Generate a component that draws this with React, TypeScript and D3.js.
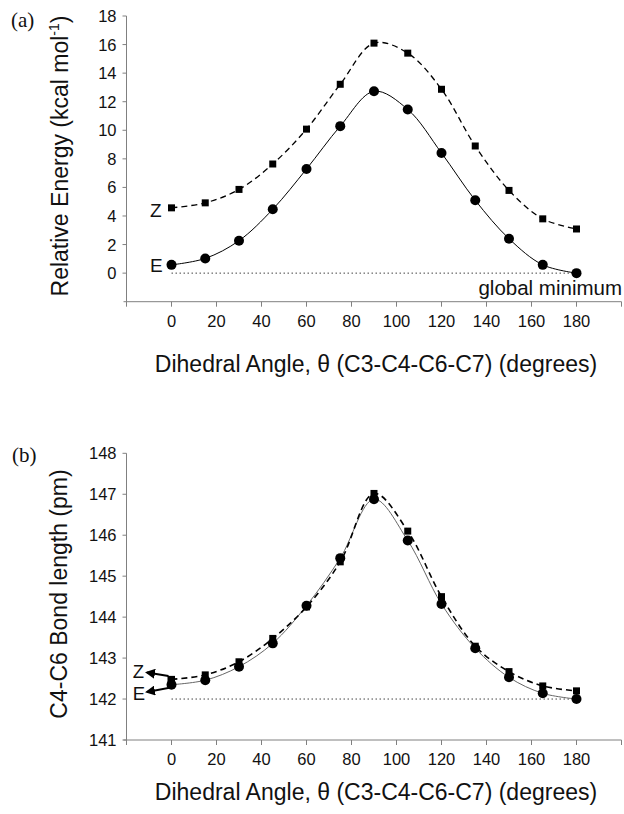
import React from "react";
import * as d3 from "d3";

const angles = [0, 15, 30, 45, 60, 75, 90, 105, 120, 135, 150, 165, 180];
const energyZ = [4.57, 4.92, 5.86, 7.64, 10.08, 13.22, 16.1, 15.4, 12.87, 8.9, 5.79, 3.8, 3.09];
const energyE = [0.58, 1.03, 2.27, 4.47, 7.29, 10.29, 12.73, 11.46, 8.41, 5.1, 2.41, 0.58, 0.0];
const bondZ = [142.48, 142.59, 142.91, 143.48, 144.25, 145.35, 147.02, 146.1, 144.5, 143.29, 142.67, 142.32, 142.2];
const bondE = [142.35, 142.46, 142.79, 143.36, 144.28, 145.44, 146.88, 145.87, 144.32, 143.24, 142.53, 142.14, 142.0];
const xTickValues = [0, 20, 40, 60, 80, 100, 120, 140, 160, 180];
const xTickMarks = [-20, 0, 20, 40, 60, 80, 100, 120, 140, 160, 180, 200];
const energyTicks = [0, 2, 4, 6, 8, 10, 12, 14, 16, 18];
const bondTicks = [141, 142, 143, 144, 145, 146, 147, 148];

const SANS = "'Liberation Sans', Arial, sans-serif";
const SERIF = "'Liberation Serif', 'Times New Roman', serif";
const AXIS = "#808080";

type PanelProps = {
  yDomain: [number, number];
  yRange: [number, number];
  yTicks: number[];
  zVals: number[];
  eVals: number[];
  refValue: number;
  eColor: string;
  zWidth: number;
};

function Panel({ yDomain, yRange, yTicks, zVals, eVals, refValue, eColor, zWidth }: PanelProps) {
  const x = d3.scaleLinear().domain([-20, 200]).range([126.5, 621.5]);
  const y = d3.scaleLinear().domain(yDomain).range(yRange);
  const line = (vals: number[]) =>
    d3
      .line<number>()
      .x((_, i) => x(angles[i]))
      .y((v) => y(v))
      .curve(d3.curveCatmullRom.alpha(0.5))(vals) || "";
  const axisY = y(yDomain[0]);
  const x0 = x(-20);
  return (
    <g>
      <line x1={x0 - 3} x2={x(200)} y1={axisY} y2={axisY} stroke={AXIS} strokeWidth={1} />
      <line x1={x0} x2={x0} y1={axisY} y2={y(yDomain[1])} stroke={AXIS} strokeWidth={1} />
      {xTickMarks.map((t) => (
        <line key={"xt" + t} x1={x(t)} x2={x(t)} y1={axisY} y2={axisY + 5} stroke={AXIS} />
      ))}
      {xTickValues.map((t) => (
        <text key={"xl" + t} x={x(t)} y={axisY + 25} textAnchor="middle" fontFamily={SANS} fontSize={16.5} fill="#111">
          {t}
        </text>
      ))}
      {yTicks.map((t) => (
        <g key={"yt" + t}>
          <line x1={x0 - 4} x2={x0} y1={y(t)} y2={y(t)} stroke={AXIS} />
          <text x={x0 - 10} y={y(t) + 6} textAnchor="end" fontFamily={SANS} fontSize={16.5} fill="#111">
            {t}
          </text>
        </g>
      ))}
      <line
        x1={x(0)}
        x2={x(180)}
        y1={y(refValue)}
        y2={y(refValue)}
        stroke="#444"
        strokeWidth={1}
        strokeDasharray="1.5,2.5"
      />
      <path d={line(eVals)} fill="none" stroke={eColor} strokeWidth={1} />
      <path d={line(zVals)} fill="none" stroke="#000" strokeWidth={zWidth} strokeDasharray="6,4" />
      {zVals.map((v, i) => (
        <rect key={"zs" + i} x={x(angles[i]) - 3.5} y={y(v) - 3.5} width={7} height={7} fill="#000" />
      ))}
      {eVals.map((v, i) => (
        <circle key={"ec" + i} cx={x(angles[i])} cy={y(v)} r={5} fill="#000" />
      ))}
    </g>
  );
}

export default function App() {
  const xb = d3.scaleLinear().domain([-20, 200]).range([126.5, 621.5]);
  const ax = xb(0) - 3;
  return (
    <svg
      width={624}
      height={814}
      style={{ position: "absolute", left: 0, top: 0, background: "#fff" }}
      xmlns="http://www.w3.org/2000/svg"
    >
      <defs>
        <marker id="ah" viewBox="0 0 10 10" refX="8" refY="5" markerWidth="5" markerHeight="5" orient="auto-start-reverse">
          <path d="M0,0 L10,5 L0,10 z" fill="#000" />
        </marker>
      </defs>
      <rect x={0} y={0} width={624} height={814} fill="#fff" />

      {/* Panel (a) */}
      <text x={11} y={27} fontFamily={SERIF} fontSize={21} fill="#111">(a)</text>
      <Panel
        yDomain={[-2, 18]}
        yRange={[301.7, 16]}
        yTicks={energyTicks}
        zVals={energyZ}
        eVals={energyE}
        refValue={0}
        eColor="#000"
        zWidth={1.3}
      />
      <text
        transform="translate(68,156) rotate(-90)"
        textAnchor="middle"
        fontFamily={SANS}
        fontSize={23}
        fill="#111"
      >
        Relative Energy (kcal mol
        <tspan fontSize={14} dy={-9}>-1</tspan>
        <tspan dy={9}>)</tspan>
      </text>
      <text x={150} y={216.7} fontFamily={SANS} fontSize={19} fill="#111">Z</text>
      <text x={150} y={271.7} fontFamily={SANS} fontSize={19} fill="#111">E</text>
      <text x={622} y={295} textAnchor="end" fontFamily={SANS} fontSize={20.5} fill="#111">global minimum</text>
      <text x={376} y={372} textAnchor="middle" fontFamily={SANS} fontSize={23} fill="#111">
        Dihedral Angle, θ (C3-C4-C6-C7) (degrees)
      </text>

      {/* Panel (b) */}
      <text x={12} y={462} fontFamily={SERIF} fontSize={21} fill="#111">(b)</text>
      <Panel
        yDomain={[141, 148]}
        yRange={[740, 453.3]}
        yTicks={bondTicks}
        zVals={bondZ}
        eVals={bondE}
        refValue={142}
        eColor="#666"
        zWidth={1.6}
      />
      <text
        transform="translate(67,594) rotate(-90)"
        textAnchor="middle"
        fontFamily={SANS}
        fontSize={23}
        fill="#111"
      >
        C4-C6 Bond length (pm)
      </text>
      <text x={132.7} y={678.3} fontFamily={SANS} fontSize={18.5} fill="#111">Z</text>
      <text x={132.7} y={700} fontFamily={SANS} fontSize={18.5} fill="#111">E</text>
      <path d={`M${ax},676 L147,672.5`} fill="none" stroke="#000" strokeWidth={2} markerEnd="url(#ah)" />
      <path d={`M${ax},676 L${ax},688 L147,692`} fill="none" stroke="#000" strokeWidth={2} markerEnd="url(#ah)" />
      <text x={376} y={800} textAnchor="middle" fontFamily={SANS} fontSize={23} fill="#111">
        Dihedral Angle, θ (C3-C4-C6-C7) (degrees)
      </text>
    </svg>
  );
}
